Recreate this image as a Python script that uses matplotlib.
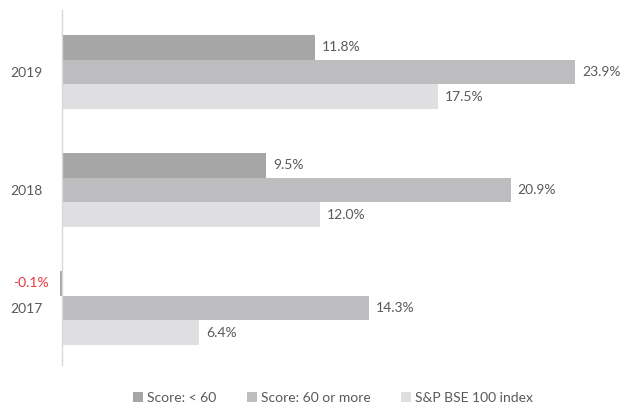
import numpy as np
import matplotlib.pyplot as plt
from matplotlib.patches import Patch

years = ['2017', '2018', '2019']
score_below_60 = [-0.1, 9.5, 11.8]
score_60_plus = [14.3, 20.9, 23.9]
bse100 = [6.4, 12.0, 17.5]

series_names = ['Score: < 60', 'Score: 60 or more', 'S&P BSE 100 index']
colors = ['#a6a6a6', '#bdbdc0', '#dfdfe1']
text_grey = '#595959'

plt.rcParams['font.family'] = ['Lato', 'DejaVu Sans']

fig = plt.figure(figsize=(6.31, 4.11), dpi=100)
px = 26 / 558  # data units per pixel along x
x0 = -4 * px
ax = fig.add_axes([58 / 631, (411 - 365) / 411, (620 - 58) / 631, 355 / 411])

y = np.arange(len(years))
h = 0.208
offsets = [h, 0, -h]

for vals, off, col in zip([score_below_60, score_60_plus, bse100], offsets, colors):
    ax.barh(y + off, vals, height=h, color=col, edgecolor='none')
    for yi, v in zip(y, vals):
        if v < 0:
            ax.text(v - 11 * px, yi + off, f'{v:.1f}%', ha='right', va='center',
                    fontsize=10, color='#e8383d')
        else:
            ax.text(v + 7 * px, yi + off, f'{v:.1f}%', ha='left', va='center',
                    fontsize=10, color=text_grey)

ax.set_xlim(x0, 26)
ax.set_ylim(-0.483, 2.525)
ax.set_yticks(y)
ax.set_yticklabels(years, fontsize=10)
ax.tick_params(axis='y', length=0, pad=14, labelcolor=text_grey)
ax.set_xticks([])
for s in ['top', 'right', 'bottom']:
    ax.spines[s].set_visible(False)
ax.spines['left'].set_position(('data', 0))
ax.spines['left'].set_color('#d9d9d9')
ax.spines['left'].set_linewidth(1)

handles = [Patch(facecolor=c, edgecolor='none') for c in colors]
fig.legend(handles, series_names, loc='center', bbox_to_anchor=(333 / 631, 1 - 398 / 411),
           ncol=3, frameon=False, fontsize=10, labelcolor=text_grey,
           handlelength=0.7, handleheight=0.7, handletextpad=0.3, columnspacing=2.2)

fig.savefig('out.png', dpi=100)
